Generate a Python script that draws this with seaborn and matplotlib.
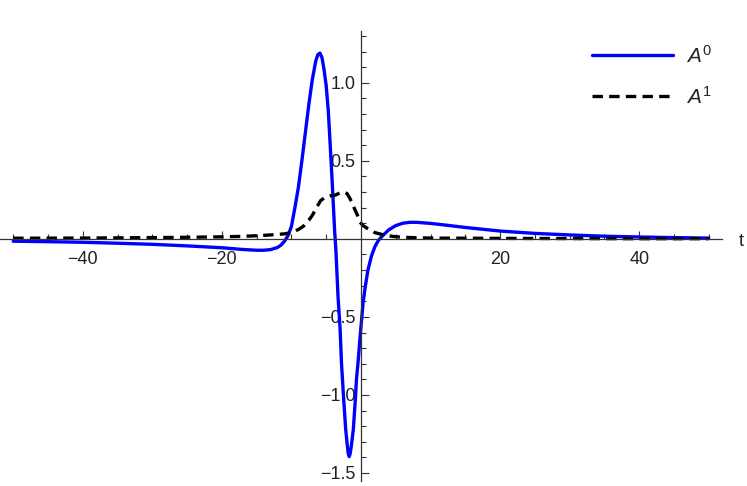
import numpy as np
import pandas as pd
import seaborn as sns
import matplotlib.pyplot as plt
from matplotlib.ticker import FixedLocator

# A^0 (blue, solid)
t0 = [-50, -45, -40, -35, -30, -25, -20, -17, -15, -14, -13, -12, -11.5, -11,
      -10.5, -10, -9.5, -9, -8.5, -8, -7.5, -7, -6.5, -6.2, -5.9, -5.6, -5.3,
      -5, -4.7, -4.4, -4.1, -3.8, -3.6, -3.3, -3, -2.8, -2.5, -2.2, -2, -1.85,
      -1.7, -1.55, -1.4, -1.1, -0.8, -0.65, -0.4, -0.17, 0.3, 0.6, 1, 1.5, 2,
      2.5, 3, 4, 5, 6, 7, 8, 10, 12, 15, 20, 25, 30, 35, 40, 45, 50]
a0 = [-0.015, -0.018, -0.022, -0.028, -0.035, -0.045, -0.057, -0.068, -0.073,
      -0.073, -0.069, -0.055, -0.04, -0.015, 0.02, 0.08, 0.2, 0.33, 0.5, 0.68,
      0.86, 1.02, 1.14, 1.18, 1.19, 1.16, 1.08, 0.98, 0.82, 0.58, 0.33, 0.06,
      -0.08, -0.37, -0.58, -0.8, -1.02, -1.22, -1.31, -1.37, -1.395, -1.375,
      -1.33, -1.22, -1.02, -0.9, -0.78, -0.65, -0.41, -0.31, -0.2, -0.11,
      -0.05, -0.01, 0.015, 0.058, 0.085, 0.1, 0.106, 0.106, 0.099, 0.089,
      0.073, 0.05, 0.035, 0.025, 0.017, 0.012, 0.008, 0.005]

# A^1 (black, dashed)
t1 = [-50, -40, -30, -25, -20, -17, -15, -13, -11, -10, -9, -8.3, -7.5, -7,
      -6.4, -5.8, -5.2, -4.5, -3.7, -3, -2.5, -2, -1.6, -1.2, -0.9, -0.5, -0.2,
      0.3, 0.8, 1.3, 2, 3.2, 4.5, 6, 8, 10, 20, 30, 40, 50]
a1 = [0.004, 0.005, 0.008, 0.01, 0.013, 0.016, 0.02, 0.025, 0.032, 0.04, 0.06,
      0.08, 0.12, 0.15, 0.2, 0.245, 0.265, 0.275, 0.28, 0.295, 0.3, 0.29,
      0.26, 0.22, 0.19, 0.15, 0.11, 0.085, 0.07, 0.058, 0.04, 0.026, 0.016,
      0.01, 0.007, 0.005, 0.003, 0.002, 0.001, 0.001]

x_major = [-40, -20, 20, 40]
x_minor = [v for v in range(-50, 51, 5) if v != 0 and v % 20 != 0]
y_major = [-1.5, -1.0, -0.5, 0.5, 1.0]
y_minor = [round(v, 1) for v in np.arange(-1.5, 1.35, 0.1)
           if abs(v) > 1e-9 and abs(round(v * 2) - v * 2) > 1e-6]

sns.set_style("ticks")
plt.rcParams["font.family"] = ["Liberation Sans", "DejaVu Sans"]
plt.rcParams["mathtext.fontset"] = "custom"
plt.rcParams["mathtext.it"] = "Liberation Sans:italic"
plt.rcParams["mathtext.rm"] = "Liberation Sans"
plt.rcParams["lines.scale_dashes"] = False

fig = plt.figure(figsize=(7.47, 4.86), dpi=100)
ax = fig.add_axes([0.0, 0.0107, 0.9665, 0.925])

df0 = pd.DataFrame({"t": t0, "A": a0})
df1 = pd.DataFrame({"t": t1, "A": a1})
sns.lineplot(data=df0, x="t", y="A", ax=ax, color=(0, 0, 1), lw=2.4,
             sort=False, label="$A^0$")
sns.lineplot(data=df1, x="t", y="A", ax=ax, color="black", lw=2.4,
             sort=False, label="$A^1$", dashes=False)
ax.lines[1].set_dashes((7.5, 4.5))

ax.set_xlim(-51.9, 51.9)
ax.set_ylim(-1.55, 1.33)
ax.set_xlabel("")
ax.set_ylabel("")

for s in ["top", "right"]:
    ax.spines[s].set_visible(False)
ax.spines["left"].set_position(("data", 0))
ax.spines["bottom"].set_position(("data", 0))
for s in ["left", "bottom"]:
    ax.spines[s].set_color("#333333")
    ax.spines[s].set_linewidth(0.9)

ax.xaxis.set_major_locator(FixedLocator(x_major))
ax.xaxis.set_minor_locator(FixedLocator(x_minor))
ax.yaxis.set_major_locator(FixedLocator(y_major))
ax.yaxis.set_minor_locator(FixedLocator(y_minor))
ax.set_xticklabels([f"{v}".replace("-", "\u2212") for v in x_major])
ax.set_yticklabels([f"{v:.1f}".replace("-", "\u2212") for v in y_major])

ax.tick_params(axis="both", which="major", direction="in", length=6,
               width=0.8, color="#333333", labelsize=13, labelcolor="#222222")
ax.tick_params(axis="both", which="minor", direction="in", length=3.5,
               width=0.8, color="#333333")
ax.tick_params(axis="x", which="major", pad=9)
ax.tick_params(axis="y", which="major", pad=4)

fig.text(0.992, 1 - 241 / 486, "t", fontsize=13, color="#222222",
         ha="center", va="center")

ax.legend(loc="upper left", bbox_to_anchor=(573 / 747, 1 - 26 / 486),
          bbox_transform=fig.transFigure, frameon=False, fontsize=15,
          handlelength=3.9, handletextpad=0.6, labelspacing=0.9)

fig.savefig("out.png", dpi=100)
